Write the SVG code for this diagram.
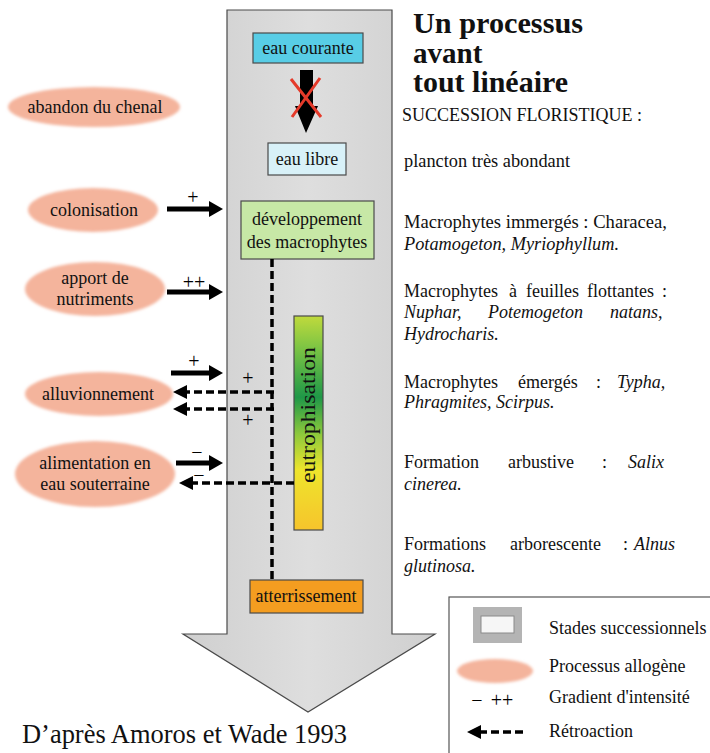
<svg xmlns="http://www.w3.org/2000/svg" width="710" height="753" viewBox="0 0 710 753">
  <style>
    .serif { font-family: "Liberation Serif", "Times New Roman", serif; fill: #111; }
    .node-text { font-size: 18px; text-anchor: middle; }
    .side { font-size: 18px; }
    .it { font-style: italic; }
    .sign { font-size: 20px; text-anchor: middle; fill: #000; }
    .box { stroke: #4a4a4a; stroke-width: 1.2; }
    .proc { fill: #f4b49c; filter: url(#soft); }
    .solid { stroke: #000; stroke-width: 5; fill: none; marker-end: url(#headSolid); }
    .feedback { stroke: #000; stroke-width: 3.5; fill: none; stroke-dasharray: 8 4; }
    .feedback-arrow { stroke: #000; stroke-width: 3.5; fill: none; stroke-dasharray: 8 4; marker-end: url(#headDash); }
  </style>
  <defs>
    <linearGradient id="arrowFill" x1="0" y1="0" x2="1" y2="0">
      <stop offset="0" stop-color="#cfcfcf"/>
      <stop offset="0.5" stop-color="#dedede"/>
      <stop offset="1" stop-color="#cfcfcf"/>
    </linearGradient>
    <linearGradient id="eutro" x1="0" y1="0" x2="0" y2="1">
      <stop offset="0" stop-color="#c0da3c"/>
      <stop offset="0.15" stop-color="#7cc444"/>
      <stop offset="0.38" stop-color="#1f9848"/>
      <stop offset="0.55" stop-color="#8cc83c"/>
      <stop offset="0.72" stop-color="#eee52c"/>
      <stop offset="1" stop-color="#f6c42c"/>
    </linearGradient>
    <filter id="soft" x="-10%" y="-20%" width="120%" height="140%">
      <feGaussianBlur stdDeviation="1.5"/>
    </filter>
    <marker id="headSolid" markerUnits="userSpaceOnUse" viewBox="0 0 14 16" markerWidth="14" markerHeight="16" refX="1" refY="8" orient="auto">
      <path d="M0,0 L14,8 L0,16 Z" fill="#000"/>
    </marker>
    <marker id="headDash" markerUnits="userSpaceOnUse" viewBox="0 0 14 14" markerWidth="14" markerHeight="14" refX="1" refY="7" orient="auto">
      <path d="M0,0 L14,7 L0,14 Z" fill="#000"/>
    </marker>
  </defs>

  <rect width="710" height="753" fill="#fff"/>

  <!-- main succession arrow -->
  <g id="succession-arrow">
    <path d="M227,10 L392,10 L392,634 L435,634 L308,712 L183,634 L227,634 Z" fill="url(#arrowFill)" stroke="#4a4a4a" stroke-width="1.2"/>
  </g>

  <!-- stages -->
  <g id="eau-courante">
    <rect class="box" x="253" y="33" width="110" height="30" fill="#58cde6"/>
    <text class="serif node-text" x="308" y="54">eau courante</text>
  </g>
  <g id="blocked-transition">
    <path d="M300,70 L313,70 L313,106 L318,106 L306,133 L295,106 L300,106 Z" fill="#000"/>
    <path d="M291,79 L321,117 M320,78 L292,117" stroke="#e53a2a" stroke-width="3" fill="none"/>
  </g>
  <g id="eau-libre">
    <rect class="box" x="268" y="143" width="78" height="32" fill="#d8f1f8"/>
    <text class="serif node-text" x="307" y="165">eau libre</text>
  </g>
  <g id="developpement">
    <rect class="box" x="241" y="201" width="133" height="58" fill="#c7e8a6"/>
    <text class="serif node-text" x="307" y="225">développement</text>
    <text class="serif node-text" x="307" y="248">des macrophytes</text>
  </g>
  <g id="eutrophisation">
    <rect class="box" x="294" y="316" width="29" height="214" fill="url(#eutro)"/>
    <text class="serif" font-size="21" text-anchor="middle" textLength="136" lengthAdjust="spacingAndGlyphs" transform="translate(315,415) rotate(-90)">eutrophisation</text>
  </g>
  <g id="atterrissement">
    <rect class="box" x="250" y="580" width="113" height="33" fill="#f49d20"/>
    <text class="serif node-text" x="306" y="602">atterrissement</text>
  </g>

  <!-- allogenic processes -->
  <g id="abandon-du-chenal">
    <ellipse class="proc" cx="94" cy="107" rx="86" ry="20"/>
    <text class="serif node-text" x="95" y="113">abandon du chenal</text>
  </g>
  <g id="colonisation">
    <ellipse class="proc" cx="93" cy="210" rx="65" ry="22"/>
    <text class="serif node-text" x="94" y="216">colonisation</text>
  </g>
  <g id="apport-de-nutriments">
    <ellipse class="proc" cx="95" cy="289" rx="70" ry="27"/>
    <text class="serif node-text" x="95" y="284">apport de</text>
    <text class="serif node-text" x="95" y="305">nutriments</text>
  </g>
  <g id="alluvionnement">
    <ellipse class="proc" cx="99" cy="394" rx="74" ry="22"/>
    <text class="serif node-text" x="98" y="400">alluvionnement</text>
  </g>
  <g id="alimentation-souterraine">
    <ellipse class="proc" cx="95" cy="474" rx="80" ry="33"/>
    <text class="serif node-text" x="95" y="469">alimentation en</text>
    <text class="serif node-text" x="95" y="490">eau souterraine</text>
  </g>

  <!-- connectors -->
  <g id="connectors">
    <line class="solid" x1="167" y1="209" x2="210" y2="209"/>
    <line class="solid" x1="167" y1="292" x2="210" y2="292"/>
    <line class="solid" x1="171" y1="373" x2="210" y2="373"/>
    <line class="solid" x1="176" y1="463" x2="210" y2="463"/>

    <line class="feedback" x1="272" y1="259" x2="272" y2="580"/>
    <line class="feedback-arrow" x1="274" y1="392" x2="186" y2="392"/>
    <line class="feedback-arrow" x1="274" y1="409" x2="186" y2="409"/>
    <line class="feedback-arrow" x1="294" y1="483" x2="192" y2="483"/>

    <text class="serif sign" x="193" y="204">+</text>
    <text class="serif sign" x="194" y="289">++</text>
    <text class="serif sign" x="194" y="368">+</text>
    <text class="serif sign" x="248" y="385">+</text>
    <text class="serif sign" x="248" y="427">+</text>
    <text class="serif sign" x="197" y="459">−</text>
    <text class="serif sign" x="199" y="482">−</text>
  </g>

  <!-- heading and floristic succession -->
  <g id="heading" class="serif" font-weight="bold" font-size="29">
    <text x="413" y="33" textLength="170" lengthAdjust="spacingAndGlyphs">Un processus</text>
    <text x="413" y="63">avant</text>
    <text x="413" y="92" textLength="155" lengthAdjust="spacingAndGlyphs">tout linéaire</text>
  </g>
  <g id="floristic-succession" class="serif side">
    <text x="402" y="121" textLength="240" lengthAdjust="spacingAndGlyphs">SUCCESSION FLORISTIQUE :</text>
    <text x="404" y="167" textLength="166" lengthAdjust="spacingAndGlyphs">plancton très abondant</text>
    <text x="404" y="228" textLength="263" lengthAdjust="spacingAndGlyphs">Macrophytes immergés : Characea,</text>
    <text class="it" x="404" y="250" textLength="215" lengthAdjust="spacingAndGlyphs">Potamogeton, Myriophyllum.</text>

    <text y="297"><tspan x="404">Macrophytes</tspan><tspan x="509">à</tspan><tspan x="526">feuilles</tspan><tspan x="587">flottantes</tspan><tspan x="662">:</tspan></text>
    <text class="it" y="318"><tspan x="404">Nuphar,</tspan><tspan x="488">Potemogeton</tspan><tspan x="610">natans,</tspan></text>
    <text class="it" x="404" y="340">Hydrocharis.</text>

    <text y="388"><tspan x="404">Macrophytes</tspan><tspan x="518">émergés</tspan><tspan x="596">:</tspan><tspan class="it" x="617">Typha,</tspan></text>
    <text class="it" x="404" y="408">Phragmites, Scirpus.</text>

    <text y="468"><tspan x="404">Formation</tspan><tspan x="508">arbustive</tspan><tspan x="602">:</tspan><tspan class="it" x="628">Salix</tspan></text>
    <text class="it" x="404" y="490">cinerea.</text>

    <text y="550"><tspan x="404">Formations</tspan><tspan x="510">arborescente</tspan><tspan x="623">:</tspan><tspan class="it" x="634">Alnus</tspan></text>
    <text class="it" x="404" y="572">glutinosa.</text>
  </g>

  <!-- legend -->
  <g id="legend">
    <rect x="449" y="597" width="270" height="170" fill="#fff" stroke="#555" stroke-width="1.2"/>
    <rect x="473" y="607" width="49" height="36" fill="#b4b4b4"/>
    <rect x="481" y="616" width="33" height="17" fill="#f6f6f6" stroke="#8a8a8a" stroke-width="1"/>
    <text class="serif side" x="549" y="634">Stades successionnels</text>
    <ellipse class="proc" cx="495" cy="671" rx="38" ry="12"/>
    <text class="serif side" x="549" y="672">Processus allogène</text>
    <text class="serif sign" x="477" y="707">−</text>
    <text class="serif sign" x="502" y="707">++</text>
    <text class="serif side" x="549" y="703">Gradient d'intensité</text>
    <line class="feedback-arrow" x1="523" y1="732" x2="480" y2="732"/>
    <text class="serif side" x="549" y="737">Rétroaction</text>
  </g>

  <text class="serif" x="22" y="743" font-size="28" textLength="325" lengthAdjust="spacingAndGlyphs">D’après Amoros et Wade 1993</text>
</svg>
